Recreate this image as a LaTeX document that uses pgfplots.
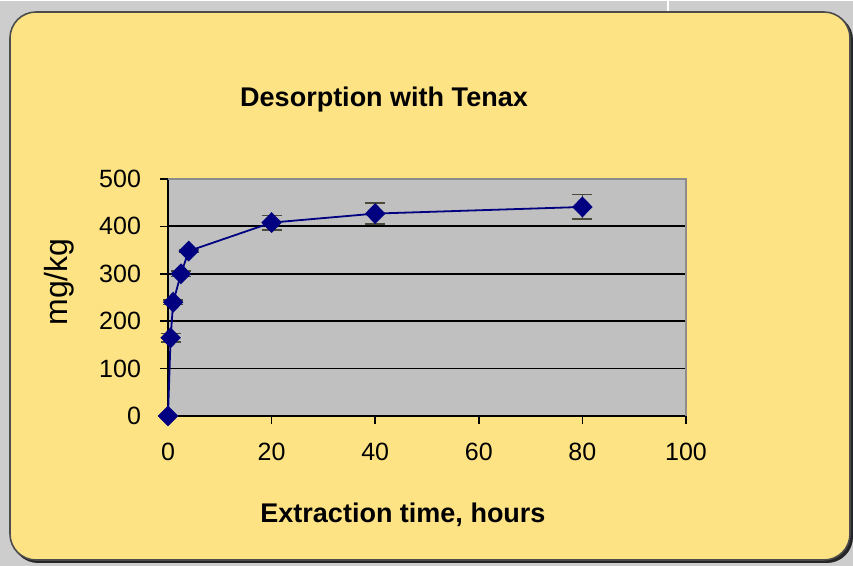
\documentclass[border=0pt]{standalone}
\usepackage{fontspec}
\setmainfont{Liberation Sans}
\usepackage{pgfplots}
\pgfplotsset{compat=1.18}
\definecolor{bggray}{HTML}{CDCDCD}
\definecolor{boxyellow}{HTML}{FEE385}
\definecolor{plotgray}{HTML}{C0C0C0}
\definecolor{navy}{HTML}{000080}
\definecolor{errcol}{HTML}{4A4A3A}
\begin{document}
\begin{tikzpicture}[x=0.5pt,y=0.5pt]
\fill[bggray] (0,0) rectangle (853,565);
\draw[white,line width=1pt] (668,565) -- (668,553);
% shadow
\fill[black!85, rounded corners=13pt] (12,3) rectangle (853,552);
\fill[boxyellow, draw=black!70, line width=0.8pt, rounded corners=13pt] (10,6) rectangle (850,554);
\node[font=\fontsize{13.5}{16}\selectfont\bfseries] at (384,466) {Desorption with Tenax};
\node[font=\fontsize{13.5}{16}\selectfont\bfseries] at (403,51) {Extraction time, hours};
\node[font=\fontsize{16}{19}\selectfont, rotate=90] at (59,284) {mg/kg};
\begin{axis}[
  at={(84pt,75pt)}, anchor=south west,
  scale only axis, width=259pt, height=118.5pt,
  xmin=0, xmax=100, ymin=0, ymax=500,
  xtick={0,20,...,100}, ytick={0,100,...,500},
  axis background/.style={fill=plotgray},
  axis x line*=bottom, axis y line*=left,
  axis line style={black, line width=0.9pt},
  tick align=outside, major tick length=4pt,
  tick style={black, line width=0.8pt},
  ymajorgrids, grid style={black, line width=0.9pt},
  ticklabel style={font=\fontsize{12.5}{14}\selectfont},
  /pgf/number format/assume math mode=true,
  yticklabel style={xshift=-6pt},
  xticklabel style={yshift=-6pt},
  clip=false,
]
\draw[black!45, line width=0.6pt] (axis cs:0,500) -- (axis cs:100,500) -- (axis cs:100,0);
\addplot[navy, line width=0.9pt, mark=diamond*, mark size=4.6pt,
  mark options={fill=navy, draw=navy, xscale=1.3},
  error bars/.cd, y dir=both, y explicit,
  error bar style={errcol, line width=0.8pt},
  error mark options={rotate=90, errcol, mark size=5pt, line width=0.8pt}]
  table[x=x, y=y, y error=e] {
x y e
0 0 0
0.5 165 9
1 240 5
2.5 300 6
4 348 3
20 408 15
40 427 22
80 441 26
};
\end{axis}
\end{tikzpicture}
\end{document}
